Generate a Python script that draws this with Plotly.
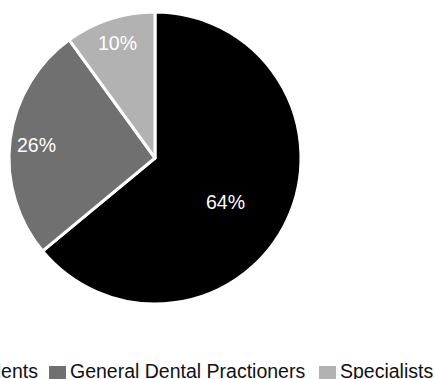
import math
import plotly.graph_objects as go

categories = ["Students", "General Dental Practioners", "Specialists"]
values = [64, 26, 10]
colors = ["#000000", "#707070", "#b2b2b2"]

# ---- layout constants (pixels, from top-left of the 435x379 canvas) ----
W, H = 435, 379
CX, CY, R = 155, 158, 146
FONT = "Liberation Sans, Arial, sans-serif"
FS = 19.5
LABEL_R = [0.57, 0.815, 0.83]      # radial position of slice labels (fraction of radius)
LABEL_DA = [7, -1, 0]              # small angular nudge of slice labels (deg)
LEG_X = [-60, 49, 319]             # left edge of each legend swatch
LEG_SW = 17                        # swatch size
LEG_TOP = 366                      # swatch top
LEG_BASE = 379                     # text baseline

def px(x):
    return x / W

def py(y):
    return 1 - y / H

fig = go.Figure(
    go.Pie(
        labels=categories,
        values=values,
        sort=False,
        direction="clockwise",
        rotation=0,
        marker=dict(colors=colors, line=dict(color="#ffffff", width=3)),
        textinfo="none",
        domain=dict(x=[px(CX - R), px(CX + R)], y=[py(CY + R), py(CY - R)]),
        hoverinfo="label+percent",
        showlegend=False,
    )
)

# slice labels computed from the data
total = sum(values)
start = 0.0
for i, v in enumerate(values):
    frac = v / total
    mid = (start + frac / 2) * 360 + LABEL_DA[i]
    start += frac
    rr = LABEL_R[i] * R
    lx = CX + rr * math.sin(math.radians(mid))
    ly = CY - rr * math.cos(math.radians(mid))
    fig.add_annotation(
        x=px(lx), y=py(ly), xref="paper", yref="paper",
        text=f"{round(frac * 100)}%", showarrow=False,
        xanchor="center", yanchor="middle",
        font=dict(family=FONT, size=FS, color="#ffffff"),
    )

# legend (horizontal, runs off the left edge as in the reference)
for i, (name, col) in enumerate(zip(categories, colors)):
    x0 = LEG_X[i]
    fig.add_shape(
        type="rect", xref="paper", yref="paper",
        x0=px(x0), x1=px(x0 + LEG_SW), y0=py(LEG_TOP + LEG_SW), y1=py(LEG_TOP),
        fillcolor=col, line=dict(width=0),
    )
    fig.add_annotation(
        x=px(x0 + LEG_SW + 2), y=py(LEG_BASE + 5), xref="paper", yref="paper",
        text=name, showarrow=False, xanchor="left", yanchor="bottom",
        font=dict(family=FONT, size=FS, color="#111111"),
    )

fig.update_layout(
    width=W,
    height=H,
    margin=dict(l=0, r=0, t=0, b=0, autoexpand=False),
    paper_bgcolor="#ffffff",
    plot_bgcolor="#ffffff",
    font=dict(family=FONT, size=FS, color="#111111"),
    showlegend=False,
)

fig.write_html("out.html")
